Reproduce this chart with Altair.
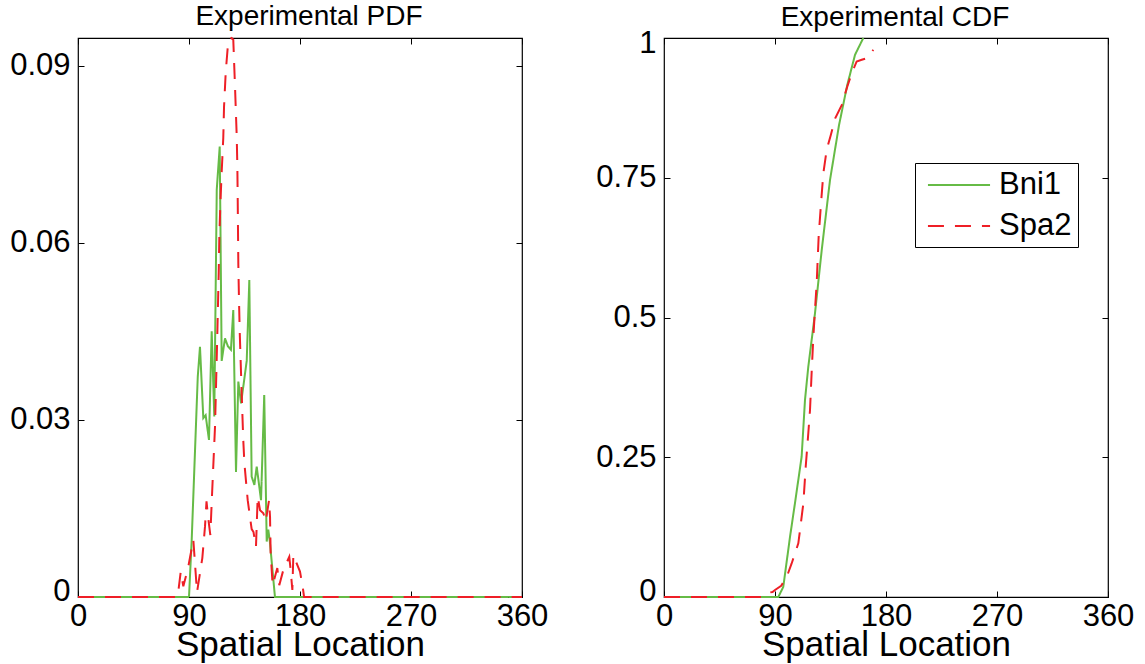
import altair as alt
import pandas as pd

FONT = "Liberation Sans"
GREEN = "#66bb46"
RED = "#ee1f26"

series_names = ["Bni1", "Spa2"]

# PDF, Bni1 (green)
pdf_bni1_x = [0, 90.0, 92.2, 97.1, 98.9, 101.6, 103.5, 106.2, 108.4, 110.5, 112.5, 114.9,
              116.5, 119.2, 121.5, 124.0, 125.9, 128.1, 130.0, 132.2, 136.8, 138.9, 140.8,
              143.0, 144.9, 148.4, 151.0, 153.0, 154.3, 155.5, 159.7, 360]
pdf_bni1_y = [0, 0, 0.0097, 0.0373, 0.0424, 0.0303, 0.0308, 0.0266, 0.0450, 0.0306, 0.0690, 0.0763,
              0.0400, 0.0438, 0.0425, 0.0419, 0.0486, 0.0212, 0.0365, 0.0328, 0.0400, 0.0537, 0.0204,
              0.0190, 0.0221, 0.0164, 0.0342, 0.0094, 0.0114, 0.0095, 0, 0]

# PDF, Spa2 (red dashed)
pdf_spa2_x = [0, 80.8, 83.3, 85.4, 89.4, 93.5, 96.5, 100.8, 103.0, 104.2, 105.5, 107.3, 108.5,
              111.1, 112.9, 113.5, 114.1, 114.6, 115.4, 116.5, 117.8, 118.4, 119.8, 121.9,
              124.6, 125.9, 127.3, 128.7, 129.2, 129.5, 130.0, 130.5, 131.1, 132.7, 134.0,
              134.9, 137.6, 140.8, 142.3, 144.3, 145.7, 147.6, 150.3, 152.2, 154.9, 155.7,
              156.2, 157.8, 161.6, 163.2, 166.5, 171.3, 172.4, 173.8, 174.6, 180.0, 182.2,
              183.3, 360]
pdf_spa2_y = [0, 0, 0.0043, 0.0018, 0.0051, 0.0097, 0.0008, 0.0066, 0.0120, 0.0162, 0.0135, 0.0105, 0.0165,
              0.0289, 0.0440, 0.0495, 0.0550, 0.0610, 0.0664, 0.0720, 0.0778, 0.0830, 0.0890, 0.0944,
              0.0947, 0.0944, 0.0865, 0.0780, 0.0730, 0.0673, 0.0563, 0.0507, 0.0451, 0.0346, 0.0266,
              0.0227, 0.0164, 0.0115, 0.0110, 0.0085, 0.0170, 0.0147, 0.0142, 0.0128, 0.0164, 0.0136,
              0.0075, 0.0020, 0.0049, 0.0020, 0.0046, 0.0068, 0.0046, 0.0012, 0.0071, 0.0043, 0.0017,
              0, 0]

# CDF, Bni1
cdf_bni1_x = [0, 92.7, 96.7, 102.2, 106.2, 111.6, 114.3, 117.0, 122.4, 127.9, 134.6, 141.9,
              148.6, 154.9, 161.6]
cdf_bni1_y = [0, 0, 0.018, 0.108, 0.168, 0.251, 0.352, 0.412, 0.507, 0.621, 0.746, 0.844,
              0.916, 0.970, 1.0]

# CDF, Spa2
cdf_spa2_x = [0, 80.0, 83.2, 88.0, 90.0, 95.0, 99.5, 103.5, 108.9, 110.3, 113.0, 114.9, 117.0,
              118.4, 119.8, 121.1, 122.4, 123.8, 125.4, 127.3, 129.2, 131.9, 135.2, 138.7,
              144.1, 148.6, 152.2, 156.2, 160.3, 164.4, 167.0, 169.7]
cdf_spa2_y = [0, 0, 0.007, 0.009, 0.0125, 0.020, 0.036, 0.060, 0.096, 0.120, 0.168, 0.233, 0.293,
              0.335, 0.406, 0.466, 0.513, 0.561, 0.645, 0.704, 0.758, 0.800, 0.826, 0.856,
              0.880, 0.913, 0.937, 0.958, 0.961, 0.964, 0.970, 0.979]

x_ticks = [0, 90, 180, 270, 360]
pdf_y_ticks = [0, 0.03, 0.06, 0.09]
cdf_y_ticks = [0, 0.25, 0.5, 0.75, 1]


def frame(xs1, ys1, xs2, ys2):
    return pd.DataFrame({
        "x": list(xs1) + list(xs2),
        "v": list(ys1) + list(ys2),
        "series": [series_names[0]] * len(xs1) + [series_names[1]] * len(xs2),
    })


pdf_df = frame(pdf_bni1_x, pdf_bni1_y, pdf_spa2_x, pdf_spa2_y)
cdf_df = frame(cdf_bni1_x, cdf_bni1_y, cdf_spa2_x, cdf_spa2_y)

TICK = 6
FLUSH = 10


def panel(df, title, ymax, yticks, legend, title_offset):
    xscale = alt.Scale(domain=[0, 360], nice=False, zero=False)
    yscale = alt.Scale(domain=[0, ymax], nice=False, zero=False)
    if legend:
        leg = alt.Legend(title=None, orient="none", legendX=251, legendY=125,
                         strokeColor="black", fillColor="white", padding=6,
                         labelFontSize=31, labelFont=FONT, labelColor="black",
                         symbolType="M-2.07,0H2.07", symbolSize=900, symbolStrokeWidth=2,
                         symbolFillColor="transparent", symbolOffset=22,
                         rowPadding=10, labelOffset=24, cornerRadius=0)
    else:
        leg = None
    color = alt.Color("series:N", scale=alt.Scale(domain=series_names, range=[GREEN, RED]),
                      legend=leg)
    dash = alt.StrokeDash("series:N", scale=alt.Scale(domain=series_names,
                                                      range=[[1, 0], [16, 11]]),
                          legend=leg)
    lines = alt.Chart(df).mark_line(strokeWidth=2).encode(
        x=alt.X("x:Q", scale=xscale,
                axis=alt.Axis(values=x_ticks, orient="bottom", offset=-TICK, tickSize=TICK,
                              labelPadding=4, labelFlush=False, title="Spatial Location",
                              titlePadding=-4, format="d")),
        y=alt.Y("v:Q", scale=yscale,
                axis=alt.Axis(values=yticks, orient="left", offset=-TICK, tickSize=TICK,
                              labelPadding=8, format=".2~f", title=None,
                              labelFlush=True, labelFlushOffset=FLUSH,
                              minExtent=60, maxExtent=60)),
        color=color,
        strokeDash=dash,
        order=alt.Order("x:Q"),
    )
    ghost = alt.Chart(df).mark_point(opacity=0).encode(
        x=alt.X("x:Q",
                axis=alt.Axis(values=x_ticks, orient="top", offset=-TICK, tickSize=TICK,
                              labels=False, title=None, minExtent=0, maxExtent=0)),
        y=alt.Y("v:Q",
                axis=alt.Axis(values=yticks, orient="right", offset=-TICK, tickSize=TICK,
                              labels=False, title=None, minExtent=0, maxExtent=0)),
    )
    return alt.layer(lines, ghost).resolve_axis(x="independent", y="independent").properties(
        width=444, height=559, title=alt.TitleParams(title, offset=title_offset, dx=9))


left = panel(pdf_df, "Experimental PDF", 0.0947, pdf_y_ticks, False, 3)
right = panel(cdf_df, "Experimental CDF", 1.0, cdf_y_ticks, True, -5)

chart = alt.hconcat(left, right, spacing=46).resolve_scale(
    color="independent", strokeDash="independent"
).resolve_legend(color="independent", strokeDash="independent").properties(
    padding={"left": 9, "top": 2, "right": 0, "bottom": 0},
    background="white"
).configure_view(
    stroke="black", strokeWidth=1.2
).configure_axis(
    labelFont=FONT, labelFontSize=31, labelColor="black",
    titleFont=FONT, titleFontSize=35, titleColor="black", titleFontWeight="normal",
    tickColor="black", tickWidth=1, grid=False, domain=False
).configure_title(
    font=FONT, fontSize=28, fontWeight="normal", color="black", anchor="middle"
)

chart.save("out.html", embed_options={"renderer": "svg", "actions": False})
